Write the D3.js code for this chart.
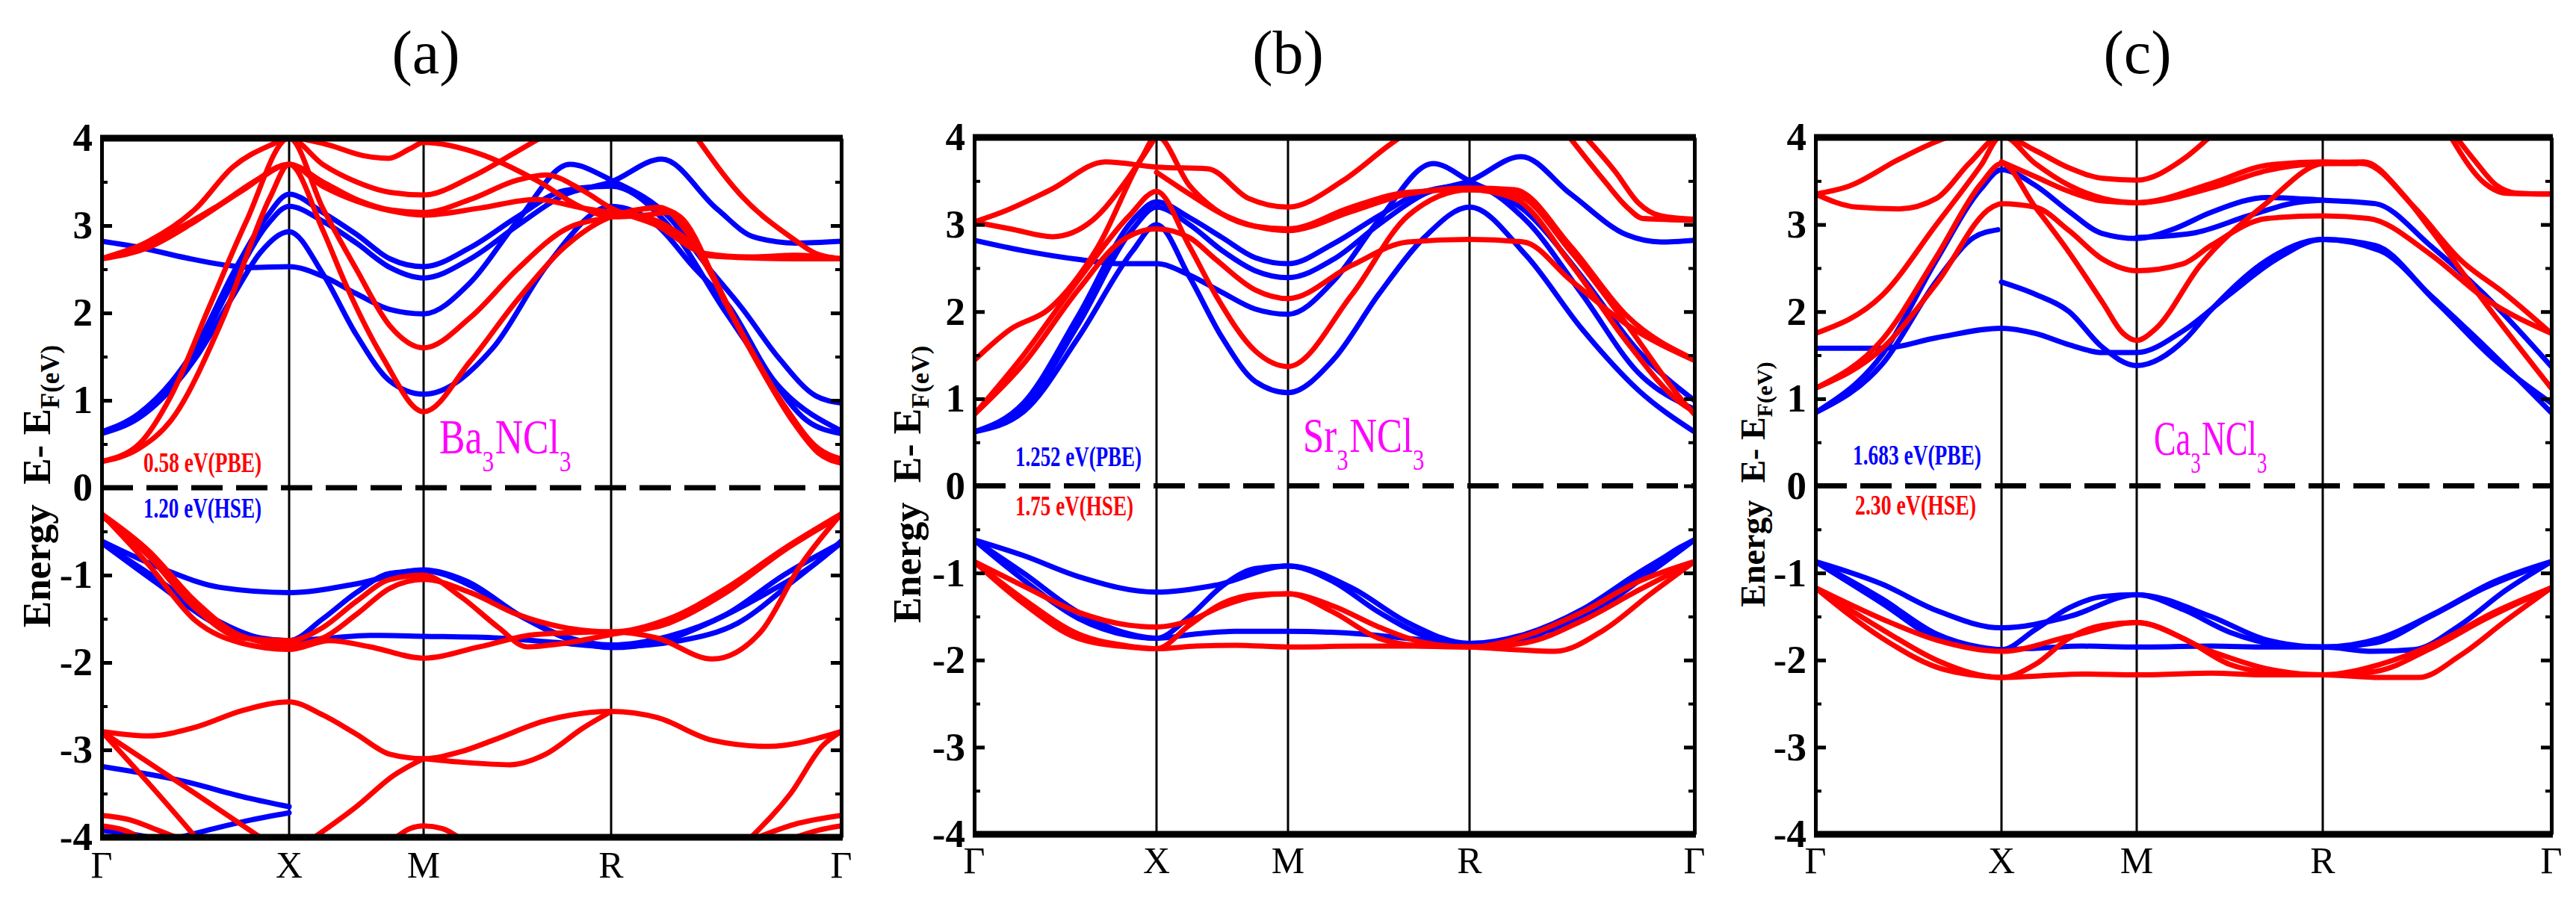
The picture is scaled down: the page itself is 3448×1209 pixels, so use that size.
<!DOCTYPE html>
<html>
<head>
<meta charset="utf-8">
<script src="https://cdn.jsdelivr.net/npm/d3@7"></script>
<style>
  body { margin: 0; background: #fff; }
  svg { display: block; }
  text { font-family: "Liberation Serif", "Times New Roman", serif; }
</style>
</head>
<body>
<svg id="chart" width="3448" height="1209"></svg>
<script>
// k-path: Γ=0, X=1, M=2, R=3, Γ=4
const kStops = [0, 1, 2, 3, 4];
const kLabels = ["Γ", "X", "M", "R", "Γ"];
const yMajor = [-4, -3, -2, -1, 0, 1, 2, 3, 4];
const yMinor = [-3.5, -2.5, -1.5, -0.5, 0.5, 1.5, 2.5, 3.5];
const titles = ["(a)", "(b)", "(c)"];
const formulas = ["Ba3NCl3", "Sr3NCl3", "Ca3NCl3"];
const gapUpper = ["0.58 eV(PBE)", "1.252 eV(PBE)", "1.683 eV(PBE)"];
const gapLower = ["1.20 eV(HSE)", "1.75 eV(HSE)", "2.30 eV(HSE)"];

// Ba3NCl3 bands, [k, E]
const baRed = [
  [[0,0.3],[0.2,0.5],[0.37,1.05],[0.57,2.05],[0.77,3.04],[1,4.0],[1.25,3.2],[1.5,2.5],[1.75,1.85],[2,1.6],[2.25,1.95],[2.5,2.5],[2.75,2.95],[3,3.1],[3.21,3.21],[3.35,2.85],[3.57,1.76],[3.79,0.77],[3.89,0.43],[4,0.3]],
  [[0,0.3],[0.2,0.45],[0.37,0.77],[0.64,1.9],[0.9,3.33],[1,3.7],[1.25,2.95],[1.42,2.33],[1.7,1.48],[2,0.87],[2.25,1.45],[2.5,2.15],[2.75,2.75],[3,3.1],[3.2,3.2],[3.3,3.1],[3.5,2.1],[3.75,0.95],[3.9,0.45],[4,0.33]],
  [[0,2.62],[0.25,2.75],[0.5,3.05],[0.75,3.4],[1,3.7],[1.25,3.5],[1.5,3.3],[1.75,3.18],[2,3.15],[2.25,3.3],[2.5,3.52],[2.65,3.58],[2.85,3.4],[3,3.2],[3.2,3.0],[3.41,2.68],[3.6,2.64],[3.8,2.66],[4,2.62]],
  [[0,2.62],[0.25,2.82],[0.5,3.19],[0.7,3.67],[0.9,3.92],[1,4.0],[1.25,3.7],[1.5,3.5],[1.75,3.38],[2,3.35],[2.25,3.55],[2.5,3.85],[2.7,4.1]],
  [[1,4.02],[1.3,3.92],[1.55,3.8],[1.74,3.77],[1.9,3.88],[2,3.95],[2.3,3.82],[2.6,3.52],[2.85,3.2],[3,3.1],[3.15,3.12],[3.25,3.15],[3.4,2.6],[3.6,1.6],[3.8,0.72],[3.9,0.4],[4,0.28]],
  [[3.36,4.05],[3.57,3.33],[3.79,2.85],[3.89,2.68],[4,2.62]],
  [[0,2.62],[0.3,2.85],[0.6,3.2],[0.85,3.55],[1,3.7],[1.25,3.45],[1.5,3.28],[1.75,3.17],[2,3.12],[2.3,3.2],[2.6,3.3],[2.85,3.2],[3,3.15],[3.15,3.1],[3.3,2.9],[3.41,2.66],[3.6,2.63],[3.8,2.62],[4,2.62]],
  [[0,-0.3],[0.25,-0.72],[0.5,-1.3],[0.75,-1.7],[1,-1.8],[1.25,-1.72],[1.5,-1.45],[1.75,-1.15],[2,-1.05],[2.25,-1.2],[2.5,-1.45],[2.75,-1.6],[3,-1.65],[3.25,-1.5],[3.5,-1.15],[3.75,-0.7],[4,-0.3]],
  [[0,-0.32],[0.25,-0.78],[0.5,-1.38],[0.75,-1.72],[1,-1.75],[1.25,-1.6],[1.5,-1.3],[1.75,-1.05],[2,-1.0],[2.2,-1.25],[2.4,-1.6],[2.55,-1.82],[2.75,-1.78],[3,-1.68],[3.25,-1.55],[3.5,-1.2],[3.75,-0.72],[4,-0.32]],
  [[0,-0.3],[0.25,-0.88],[0.5,-1.52],[0.75,-1.78],[1,-1.85],[1.3,-1.75],[1.6,-1.82],[2,-1.95],[2.3,-1.82],[2.6,-1.68],[3,-1.65],[3.2,-1.72],[3.44,-1.96],[3.65,-1.65],[3.82,-0.9],[4,-0.3]],
  [[0,-2.79],[0.25,-2.84],[0.5,-2.74],[0.75,-2.55],[1,-2.45],[1.25,-2.6],[1.5,-2.82],[1.75,-3.05],[2,-3.1],[2.2,-3.02],[2.37,-2.89],[2.66,-2.66],[3,-2.56],[3.2,-2.63],[3.44,-2.89],[3.68,-2.96],[4,-2.79]],
  [[2,-3.1],[2.2,-3.14],[2.46,-3.17],[2.65,-3.05],[2.85,-2.75],[3,-2.56]],
  [[0,-2.79],[0.25,-3.38],[0.51,-4.02]],
  [[0,-2.79],[0.43,-3.4],[0.86,-4.02]],
  [[1.17,-4.02],[1.5,-3.65],[1.78,-3.29],[2,-3.1]],
  [[3.6,-4.02],[3.78,-3.5],[3.92,-2.95],[4,-2.79]],
  [[0,-3.75],[0.15,-3.8],[0.3,-3.92],[0.42,-4.02]],
  [[0,-3.87],[0.12,-3.92],[0.22,-4.02]],
  [[1.78,-4.02],[1.9,-3.9],[2,-3.87],[2.1,-3.9],[2.2,-4.02]],
  [[3.62,-4.02],[3.8,-3.85],[4,-3.75]],
  [[3.78,-4.02],[3.9,-3.92],[4,-3.87]]
];
const baBlue = [
  [[0,0.62],[0.2,0.8],[0.5,1.48],[0.7,2.19],[0.85,2.7],[1,2.93],[1.25,2.45],[1.5,1.75],[1.75,1.22],[2,1.07],[2.37,1.6],[2.66,2.55],[3,3.22],[3.2,3.0],[3.35,2.55],[3.52,2.05],[3.68,1.33],[3.85,0.77],[4,0.62]],
  [[0,0.62],[0.2,0.82],[0.5,1.55],[0.7,2.35],[0.88,3.0],[1,3.22],[1.25,3.05],[1.5,2.8],[1.75,2.52],[2,2.4],[2.25,2.62],[2.5,3.0],[2.75,3.35],[3,3.5],[3.22,3.76],[3.46,3.19],[3.62,2.87],[3.8,2.8],[4,2.82]],
  [[0,0.64],[0.2,0.85],[0.5,1.6],[0.7,2.45],[0.88,3.1],[1,3.36],[1.25,3.15],[1.5,2.9],[1.75,2.62],[2,2.53],[2.25,2.75],[2.5,3.1],[2.75,3.4],[3,3.45],[3.25,3.0],[3.5,2.0],[3.75,1.1],[4,0.65]],
  [[0,2.82],[0.2,2.75],[0.45,2.63],[0.65,2.55],[0.8,2.52],[1,2.53],[1.25,2.42],[1.5,2.22],[1.75,2.04],[2,1.99],[2.25,2.35],[2.5,3.05],[2.78,3.7],[3,3.52],[3.25,3.1],[3.41,2.56],[3.57,2.05],[3.73,1.48],[3.89,1.05],[4,0.97]],
  [[0,-0.61],[0.34,-0.94],[0.63,-1.14],[1,-1.2],[1.5,-1.1],[2,-0.94],[2.23,-1.07],[2.52,-1.47],[2.81,-1.76],[3,-1.83],[3.2,-1.77],[3.44,-1.53],[3.68,-1.2],[3.92,-0.8],[4,-0.61]],
  [[0,-0.63],[0.3,-1.05],[0.6,-1.5],[0.85,-1.72],[1,-1.75],[1.25,-1.5],[1.5,-1.2],[1.75,-0.98],[2,-0.95],[2.25,-1.12],[2.5,-1.45],[2.75,-1.7],[3,-1.8],[3.25,-1.7],[3.5,-1.45],[3.75,-1.0],[4,-0.63]],
  [[0,-0.63],[0.3,-1.1],[0.6,-1.55],[0.85,-1.73],[1,-1.75],[1.3,-1.72],[1.6,-1.69],[2,-1.7],[2.4,-1.72],[2.7,-1.77],[3,-1.82],[3.3,-1.75],[3.55,-1.55],[3.8,-1.05],[4,-0.63]],
  [[0,-3.19],[0.42,-3.35],[0.78,-3.55],[1,-3.65]],
  [[0.42,-4.0],[0.6,-3.9],[0.8,-3.8],[1,-3.72]],
  [[0,-3.92],[0.15,-3.96],[0.3,-4.02]]
];

// Sr3NCl3 bands
const srRed = [
  [[0,0.82],[0.27,1.5],[0.57,2.36],[0.85,3.1],[1,3.38],[1.25,2.75],[1.45,2.19],[1.75,1.55],[2,1.37],[2.35,2.19],[2.66,3.1],[3,3.4],[3.21,3.34],[3.45,2.69],[3.7,1.85],[3.94,1.0],[4,0.82]],
  [[0,0.82],[0.27,1.4],[0.57,2.25],[0.8,2.8],[1,2.95],[1.25,2.85],[1.45,2.6],[1.75,2.25],[2,2.15],[2.35,2.53],[2.66,2.8],[3,2.83],[3.24,2.8],[3.45,2.36],[3.7,1.85],[4,1.44]],
  [[0,1.44],[0.2,1.8],[0.41,2.03],[0.68,2.75],[0.92,3.77],[1,4.02],[1.25,3.45],[1.5,3.12],[1.75,2.98],[2,2.95],[2.35,3.2],[2.66,3.37],[3,3.4],[3.2,3.3],[3.45,2.55],[3.7,1.65],[3.94,0.95],[4,0.85]],
  [[0,3.03],[0.15,3.14],[0.42,3.4],[0.72,3.72],[1,3.66],[1.39,3.64],[1.7,3.3],[2,3.2],[2.3,3.5],[2.55,3.9],[2.65,4.05]],
  [[0,3.03],[0.2,2.95],[0.43,2.86],[0.65,3.05],[0.85,3.55],[1,4.02]],
  [[1,3.6],[1.25,3.35],[1.5,3.12],[1.75,2.98],[2,2.93],[2.35,3.15],[2.66,3.35],[3,3.42],[3.2,3.4],[3.45,2.75],[3.7,1.95],[4,1.45]],
  [[3.43,4.05],[3.6,3.5],[3.7,3.2],[3.77,3.07],[4,3.05]],
  [[3.5,4.05],[3.65,3.6],[3.75,3.25],[3.85,3.1],[4,3.06]],
  [[0,-0.87],[0.27,-1.15],[0.57,-1.45],[0.85,-1.6],[1,-1.62],[1.25,-1.55],[1.5,-1.38],[1.75,-1.27],[2,-1.24],[2.25,-1.38],[2.5,-1.62],[2.75,-1.8],[3,-1.85],[3.25,-1.72],[3.5,-1.45],[3.75,-1.1],[4,-0.87]],
  [[0,-0.87],[0.27,-1.3],[0.57,-1.7],[0.85,-1.84],[1,-1.87],[1.25,-1.6],[1.5,-1.35],[1.75,-1.25],[2,-1.24],[2.25,-1.45],[2.5,-1.75],[2.75,-1.84],[3,-1.85],[3.25,-1.8],[3.5,-1.55],[3.75,-1.2],[4,-0.87]],
  [[0,-0.87],[0.27,-1.35],[0.57,-1.75],[0.85,-1.85],[1,-1.87],[1.3,-1.84],[1.6,-1.83],[2,-1.85],[2.4,-1.84],[2.7,-1.84],[3,-1.85],[3.2,-1.88],[3.38,-1.9],[3.6,-1.65],[3.8,-1.25],[4,-0.87]]
];
const srBlue = [
  [[0,0.62],[0.27,0.85],[0.57,1.7],[0.87,2.7],[1,3.0],[1.25,2.4],[1.5,1.7],[1.75,1.2],[2,1.07],[2.25,1.45],[2.5,2.2],[2.75,2.85],[3,3.2],[3.25,2.65],[3.5,1.8],[3.75,1.1],[4,0.62]],
  [[0,0.62],[0.27,0.9],[0.57,1.85],[0.87,2.95],[1,3.2],[1.25,3.0],[1.5,2.7],[1.75,2.47],[2,2.39],[2.25,2.6],[2.5,3.0],[2.75,3.35],[3,3.5],[3.23,3.78],[3.45,3.35],[3.7,2.88],[3.85,2.8],[4,2.82]],
  [[0,0.62],[0.27,0.95],[0.57,1.95],[0.87,3.05],[1,3.26],[1.25,3.08],[1.5,2.85],[1.75,2.62],[2,2.55],[2.25,2.78],[2.5,3.1],[2.75,3.38],[3,3.45],[3.25,3.05],[3.5,2.2],[3.75,1.3],[4,0.88]],
  [[0,2.82],[0.27,2.7],[0.57,2.6],[0.8,2.55],[1,2.55],[1.25,2.42],[1.5,2.22],[1.75,2.03],[2,1.97],[2.25,2.35],[2.5,3.05],[2.8,3.7],[3,3.5],[3.25,3.15],[3.5,2.4],[3.75,1.55],[4,0.98]],
  [[0,-0.62],[0.27,-0.8],[0.57,-1.04],[1,-1.22],[1.45,-1.14],[2,-0.92],[2.35,-1.17],[2.66,-1.57],[3,-1.81],[3.21,-1.79],[3.45,-1.5],[3.69,-1.14],[3.94,-0.7],[4,-0.62]],
  [[0,-0.62],[0.27,-1.0],[0.57,-1.45],[0.85,-1.7],[1,-1.75],[1.25,-1.5],[1.5,-1.15],[1.75,-0.95],[2,-0.92],[2.25,-1.1],[2.5,-1.45],[2.75,-1.72],[3,-1.81],[3.25,-1.7],[3.5,-1.42],[3.75,-1.0],[4,-0.62]],
  [[0,-0.62],[0.27,-1.08],[0.57,-1.52],[0.85,-1.72],[1,-1.75],[1.3,-1.7],[1.6,-1.67],[2,-1.67],[2.4,-1.7],[2.7,-1.76],[3,-1.81],[3.3,-1.7],[3.55,-1.45],[3.8,-1.0],[4,-0.62]]
];

// Ca3NCl3 bands
const caRed = [
  [[0,1.12],[0.36,1.68],[0.65,2.63],[0.89,3.47],[1,3.7],[1.25,3.2],[1.5,2.68],[1.75,2.1],[1.9,1.75],[2,1.67],[2.1,1.8],[2.34,2.53],[2.7,3.25],[3,3.7],[3.18,3.72],[3.35,3.35],[3.47,2.95],[3.71,2.1],[4,1.12]],
  [[0,1.12],[0.36,1.58],[0.65,2.32],[0.95,3.2],[1,3.24],[1.25,3.2],[1.5,2.93],[1.75,2.6],[2,2.47],[2.25,2.55],[2.4,2.76],[2.7,3.07],[3,3.1],[3.2,3.07],[3.47,2.66],[3.71,2.15],[4,1.75]],
  [[0,1.75],[0.36,2.19],[0.65,3.0],[0.89,3.68],[1,4.02],[1.25,3.7],[1.5,3.45],[1.75,3.3],[2,3.25],[2.4,3.47],[2.7,3.68],[3,3.72],[3.18,3.7],[3.4,3.2],[3.6,2.6],[3.8,2.2],[4,1.75]],
  [[0,3.35],[0.22,3.2],[0.45,3.18],[0.65,3.3],[0.83,3.71],[1,4.02],[1.25,3.85],[1.5,3.65],[1.75,3.53],[2,3.51],[2.25,3.75],[2.4,4.02]],
  [[0,3.35],[0.18,3.44],[0.45,3.75],[0.67,3.97],[0.78,4.05]],
  [[1,3.72],[1.25,3.55],[1.5,3.38],[1.75,3.27],[2,3.25],[2.4,3.42],[2.7,3.62],[3,3.7],[3.15,3.7]],
  [[3.55,4.05],[3.71,3.47],[3.8,3.36],[4,3.35]],
  [[3.57,4.05],[3.66,3.75],[3.76,3.45],[3.85,3.36],[4,3.35]],
  [[0,-1.17],[0.36,-1.53],[0.65,-1.77],[1,-1.9],[1.5,-1.73],[2,-1.57],[2.4,-1.9],[2.7,-2.1],[3,-2.17],[3.23,-2.13],[3.47,-1.87],[3.71,-1.53],[4,-1.17]],
  [[0,-1.17],[0.36,-1.65],[0.65,-2.0],[0.88,-2.17],[1,-2.2],[1.25,-2.05],[1.5,-1.75],[1.75,-1.6],[2,-1.57],[2.25,-1.75],[2.5,-2.05],[2.75,-2.15],[3,-2.17],[3.25,-2.05],[3.5,-1.8],[3.75,-1.45],[4,-1.17]],
  [[0,-1.17],[0.36,-1.75],[0.65,-2.08],[0.88,-2.18],[1,-2.2],[1.3,-2.18],[1.6,-2.16],[2,-2.17],[2.4,-2.15],[2.7,-2.17],[3,-2.17],[3.25,-2.2],[3.42,-2.2],[3.6,-1.95],[3.8,-1.55],[4,-1.17]]
];
const caBlue = [
  [[0,0.84],[0.36,1.51],[0.65,2.59],[0.89,3.41],[1,3.63],[1.25,3.45],[1.5,3.15],[1.74,2.9],[2,2.84],[2.2,2.95],[2.4,3.14],[2.7,3.31],[3,3.28],[3.23,3.24],[3.47,2.76],[3.71,2.19],[4,1.37]],
  [[0,0.84],[0.36,1.4],[0.65,2.35],[0.85,2.85],[0.98,2.94]],
  [[1,2.34],[1.25,2.2],[1.5,2.0],[1.74,1.6],[2,1.38],[2.26,1.68],[2.4,2.02],[2.7,2.59],[3,2.83],[3.23,2.76],[3.47,2.19],[3.71,1.6],[4,0.84]],
  [[0,1.58],[0.36,1.58],[0.65,1.7],[1,1.81],[1.25,1.75],[1.5,1.62],[1.75,1.53],[2,1.53],[2.25,1.78],[2.5,2.2],[2.75,2.6],[3,2.83],[3.25,2.7],[3.5,2.1],[3.75,1.45],[4,0.95]],
  [[2,2.85],[2.3,2.9],[2.6,3.1],[2.85,3.25],[3,3.28]],
  [[0,-0.87],[0.36,-1.13],[0.65,-1.43],[1,-1.63],[1.5,-1.5],[2,-1.25],[2.4,-1.5],[2.7,-1.77],[3,-1.85],[3.23,-1.8],[3.47,-1.5],[3.71,-1.17],[4,-0.87]],
  [[0,-0.87],[0.36,-1.3],[0.65,-1.7],[0.88,-1.85],[1,-1.88],[1.25,-1.65],[1.5,-1.4],[1.75,-1.27],[2,-1.25],[2.25,-1.42],[2.5,-1.68],[2.75,-1.82],[3,-1.85],[3.25,-1.75],[3.5,-1.45],[3.75,-1.1],[4,-0.87]],
  [[0,-0.87],[0.36,-1.35],[0.65,-1.75],[0.88,-1.86],[1,-1.88],[1.3,-1.86],[1.6,-1.84],[2,-1.85],[2.4,-1.84],[2.7,-1.85],[3,-1.85],[3.22,-1.9],[3.4,-1.88],[3.6,-1.6],[3.8,-1.2],[4,-0.87]]
];

const RED = "#ff0000", BLUE = "#0000ff", MAGENTA = "#ff00ff";

// Panel frames and text placement
const panels = [
  { red: baRed, blue: baBlue, kx: [136, 387, 567, 818, 1126], top: 185, bottom: 1121,
    titleX: 570, labX: 67, labSize: 53, kBase: 1175,
    formula: { x: 588, y: 607, w: 175 },
    upper: { x: 192, y: 632, w: 158, c: RED }, lower: { x: 192, y: 693, w: 158, c: BLUE } },
  { red: srRed, blue: srBlue, kx: [1304, 1548, 1724, 1967, 2268], top: 184, bottom: 1117,
    titleX: 1724, labX: 1232, labSize: 52, kBase: 1169,
    formula: { x: 1744, y: 605, w: 161 },
    upper: { x: 1359, y: 624, w: 169, c: BLUE }, lower: { x: 1359, y: 690, w: 158, c: RED } },
  { red: caRed, blue: caBlue, kx: [2430, 2679, 2860, 3109, 3415], top: 184, bottom: 1117,
    titleX: 2861, labX: 2362, labSize: 46, kBase: 1169,
    formula: { x: 2883, y: 609, w: 150 },
    upper: { x: 2480, y: 622, w: 172, c: BLUE }, lower: { x: 2483, y: 689, w: 162, c: RED } }
];

const svg = d3.select("#chart");
const defs = svg.append("defs");

function drawPanel(p, i) {
  const x = d3.scaleLinear().domain(kStops).range(p.kx);
  const y = d3.scaleLinear().domain([-4, 4]).range([p.bottom, p.top]);
  const x0 = p.kx[0], x1 = p.kx[4];
  const g = svg.append("g");

  defs.append("clipPath").attr("id", "clip" + i)
    .append("rect")
    .attr("x", x0).attr("y", p.top)
    .attr("width", x1 - x0).attr("height", p.bottom - p.top);

  const line = d3.line()
    .x(d => x(d[0]))
    .y(d => y(d[1]))
    .curve(d3.curveMonotoneX);

  // High-symmetry lines
  g.selectAll("line.sym")
    .data(kStops.slice(1, 4))
    .enter().append("line")
    .attr("x1", d => x(d)).attr("x2", d => x(d))
    .attr("y1", p.top).attr("y2", p.bottom)
    .attr("stroke", "#000").attr("stroke-width", 3);

  // Bands: blue under red
  const bands = g.append("g").attr("clip-path", `url(#clip${i})`)
    .attr("fill", "none").attr("stroke-width", 7)
    .attr("stroke-linejoin", "round").attr("stroke-linecap", "round");
  bands.selectAll("path.blue")
    .data(p.blue)
    .enter().append("path")
    .attr("d", line)
    .attr("stroke", BLUE);
  bands.selectAll("path.red")
    .data(p.red)
    .enter().append("path")
    .attr("d", line)
    .attr("stroke", RED);

  // Fermi level
  g.append("line")
    .attr("x1", x0).attr("x2", x1)
    .attr("y1", y(0)).attr("y2", y(0))
    .attr("stroke", "#000").attr("stroke-width", 7)
    .attr("stroke-dasharray", "42 18");

  // Left axis with labels, inward ticks
  const left = g.append("g").attr("transform", `translate(${x0},0)`)
    .call(d3.axisLeft(y).tickValues(yMajor).tickSize(-14).tickSizeOuter(0)
      .tickPadding(12).tickFormat(d => String(d)));
  left.select(".domain").attr("stroke-width", 5);
  left.selectAll(".tick line").attr("stroke-width", 5);
  left.selectAll(".tick text")
    .attr("font-weight", "bold")
    .attr("font-size", 53).attr("fill", "#000");
  g.append("g").attr("transform", `translate(${x0},0)`)
    .call(d3.axisLeft(y).tickValues(yMinor).tickSize(-8).tickSizeOuter(0).tickFormat(""))
    .call(a => a.select(".domain").remove())
    .selectAll(".tick line").attr("stroke-width", 4);

  // Right axis
  const right = g.append("g").attr("transform", `translate(${x1},0)`)
    .call(d3.axisRight(y).tickValues(yMajor).tickSize(-14).tickSizeOuter(0).tickFormat(""));
  right.select(".domain").attr("stroke-width", 5);
  right.selectAll(".tick line").attr("stroke-width", 5);
  g.append("g").attr("transform", `translate(${x1},0)`)
    .call(d3.axisRight(y).tickValues(yMinor).tickSize(-8).tickSizeOuter(0).tickFormat(""))
    .call(a => a.select(".domain").remove())
    .selectAll(".tick line").attr("stroke-width", 4);

  // Thick top and bottom borders
  g.selectAll("line.hb")
    .data([4, -4])
    .enter().append("line")
    .attr("x1", x0 - 2).attr("x2", x1 + 2)
    .attr("y1", d => y(d)).attr("y2", d => y(d))
    .attr("stroke", "#000").attr("stroke-width", 9);

  // k-point labels
  g.selectAll("text.k")
    .data(kLabels)
    .enter().append("text")
    .attr("x", (d, j) => x(kStops[j]))
    .attr("y", p.kBase)
    .attr("text-anchor", "middle")
    .attr("font-size", 50)
    .text(d => d);

  // Title
  g.append("text")
    .attr("x", p.titleX).attr("y", 98)
    .attr("text-anchor", "middle")
    .attr("font-size", 82)
    .text(titles[i]);

  // Y label
  const yl = g.append("text")
    .attr("transform", `translate(${p.labX},${(p.top + p.bottom) / 2 - 2}) rotate(-90)`)
    .attr("text-anchor", "middle")
    .attr("font-weight", "bold")
    .attr("font-size", p.labSize)
    .style("white-space", "pre");
  yl.append("tspan").text("Energy  E- E");
  yl.append("tspan").attr("dy", p.labSize * 0.22).attr("font-size", p.labSize * 0.66).text("F(eV)");

  // Compound formula with subscripts, squeezed horizontally like the original
  const fg = g.append("g").attr("transform", `translate(${p.formula.x},${p.formula.y})`);
  const f = fg.append("text").attr("font-size", 66).attr("fill", MAGENTA);
  let down = false;
  formulas[i].match(/[A-Za-z]+|\d+/g).forEach(part => {
    const sub = /\d/.test(part);
    const t = f.append("tspan").text(part);
    if (sub) { t.attr("dy", 24).attr("font-size", 40); down = true; }
    else if (down) { t.attr("dy", -24).attr("dx", 2); down = false; }
  });
  const natural = f.node().getComputedTextLength();
  f.attr("transform", `scale(${p.formula.w / natural},1)`);

  // Gap annotations
  [[gapUpper[i], p.upper], [gapLower[i], p.lower]].forEach(([txt, a]) => {
    g.append("text")
      .attr("x", a.x).attr("y", a.y)
      .attr("font-size", 37).attr("font-weight", "bold")
      .attr("fill", a.c)
      .attr("textLength", a.w).attr("lengthAdjust", "spacingAndGlyphs")
      .text(txt);
  });
}

panels.forEach(drawPanel);
</script>
</body>
</html>
